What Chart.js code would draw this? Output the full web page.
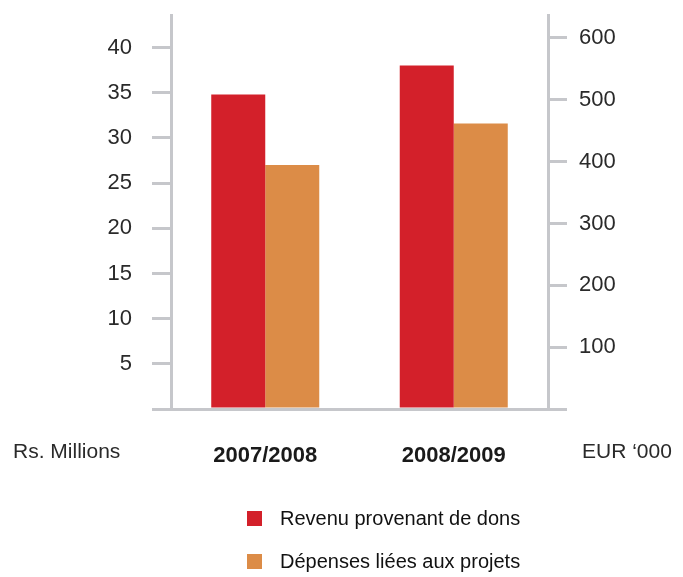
<!DOCTYPE html>
<html>
<head>
<meta charset="utf-8">
<script src="https://cdn.jsdelivr.net/npm/chart.js@4.4.1/dist/chart.umd.min.js"></script>
<style>
  body { margin: 0; background: #fff; }
  #wrap { position: relative; width: 683px; height: 577px; }
  #legend { position: absolute; left: 247px; top: 497px; margin: 0; padding: 0; list-style: none;
            font-family: 'Liberation Sans', Arial, sans-serif; font-size: 20px; color: #111; }
  #legend li { display: flex; align-items: center; height: 43px; }
  #legend span { display: inline-block; width: 15px; height: 15px; margin-right: 18px; }
</style>
</head>
<body>
<div id="wrap">
  <canvas id="chart" width="683" height="577"></canvas>
  <ul id="legend"></ul>
</div>
<script>
"use strict";

var categories = ['2007/2008', '2008/2009'];
var revenu = [34.8, 38.0];
var depenses = [27.0, 31.6];
var leftTicks = [0, 5, 10, 15, 20, 25, 30, 35, 40];
var rightTicks = [0, 100, 200, 300, 400, 500, 600];

var FONT = "'Liberation Sans', Arial, sans-serif";
var AXIS = '#c6c7cb';

// axis unit captions under each y axis
var unitLabels = {
    id: 'unitLabels',
    afterDraw: function(chart) {
        var ctx = chart.ctx;
        ctx.save();
        ctx.font = '21px ' + FONT;
        ctx.fillStyle = '#2a2a2a';
        ctx.textBaseline = 'middle';
        ctx.textAlign = 'left';
        ctx.fillText('Rs. Millions', 13, 452);
        ctx.fillText('EUR \u2018000', chart.scales.y1.left + 34, 452);
        ctx.restore();
    }
};

function fixedTicks(list) {
    return function(scale) {
        scale.ticks = list.map(function(v) { return { value: v }; });
    };
}

function noPad(width) {
    return function(scale) {
        scale.width = width;
        scale.paddingTop = 0;
        scale.paddingBottom = 0;
    };
}

var chart = new Chart(document.getElementById('chart'), {
    type: 'bar',
    data: {
        labels: categories,
        datasets: [{
            label: 'Revenu provenant de dons',
            data: revenu,
            backgroundColor: '#d3202a'
        }, {
            label: 'Dépenses liées aux projets',
            data: depenses,
            backgroundColor: '#dc8c47'
        }]
    },
    options: {
        responsive: false,
        animation: false,
        devicePixelRatio: 1,
        layout: { padding: { top: 15, bottom: 107 } },
        categoryPercentage: 0.573,
        barPercentage: 1,
        plugins: {
            legend: { display: false },
            tooltip: { enabled: false }
        },
        scales: {
            x: {
                grid: { display: false, drawTicks: false },
                border: { display: true, color: AXIS, width: 3 },
                ticks: { font: { family: FONT, size: 22, weight: 'bold' }, color: '#1a1a1a', padding: 34 },
                afterFit: function(scale) { scale.height = 61; }
            },
            y: {
                position: 'left',
                min: 0,
                max: 43.6,
                afterBuildTicks: fixedTicks(leftTicks),
                grid: { drawOnChartArea: false, color: AXIS, lineWidth: 3, tickLength: 19 },
                border: { color: AXIS, width: 3 },
                ticks: {
                    font: { family: FONT, size: 22 }, color: '#2a2a2a', padding: 20,
                    callback: function(v) { return v === 0 ? '' : v; }
                },
                afterFit: noPad(171)
            },
            y1: {
                position: 'right',
                min: 0,
                max: 637,
                afterBuildTicks: fixedTicks(rightTicks),
                grid: { drawOnChartArea: false, color: AXIS, lineWidth: 3, tickLength: 19 },
                border: { color: AXIS, width: 3 },
                ticks: {
                    font: { family: FONT, size: 22 }, color: '#2a2a2a', padding: 12,
                    callback: function(v) { return v === 0 ? '' : v; }
                },
                afterFit: noPad(135)
            }
        }
    },
    plugins: [unitLabels]
});

var legend = document.getElementById('legend');
chart.data.datasets.forEach(function(ds) {
    var li = document.createElement('li');
    var box = document.createElement('span');
    box.style.background = ds.backgroundColor;
    li.appendChild(box);
    li.appendChild(document.createTextNode(ds.label));
    legend.appendChild(li);
});
</script>
</body>
</html>
